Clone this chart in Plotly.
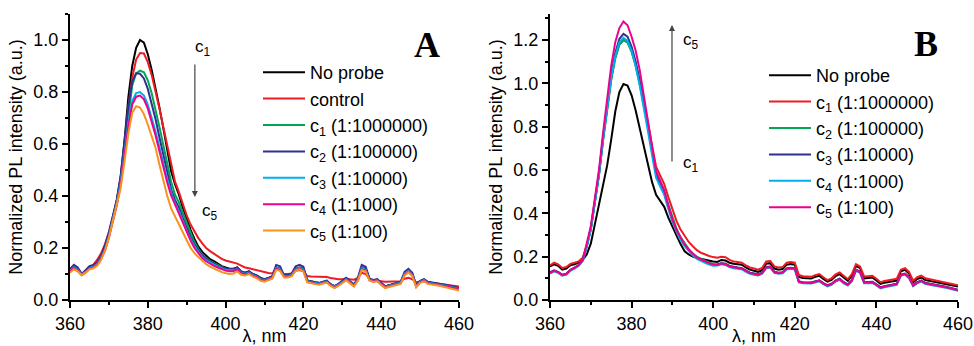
import plotly.graph_objects as go

wavelength = list(range(360, 461))

# ---------- Panel A (normalized PL, quenching) ----------
a_no_probe = [0.115, 0.13, 0.12, 0.10, 0.11, 0.125, 0.13, 0.14, 0.165,
    0.20, 0.25, 0.31, 0.38, 0.47, 0.61, 0.78, 0.90, 0.97, 1.0, 0.99, 0.945, 0.885, 0.815, 0.74, 0.66,
    0.575, 0.495, 0.445, 0.405, 0.355, 0.31, 0.27, 0.235, 0.205, 0.185, 0.17, 0.157, 0.15, 0.14, 0.13, 0.125,
    0.12, 0.12, 0.125, 0.11, 0.105, 0.11, 0.10, 0.095, 0.085, 0.08,
    0.085, 0.09, 0.125, 0.12, 0.095, 0.095, 0.10, 0.12, 0.125, 0.12,
    0.075, 0.07, 0.068, 0.065, 0.068, 0.072, 0.06, 0.052, 0.06, 0.072,
    0.082, 0.07, 0.058, 0.08, 0.125, 0.12, 0.08, 0.075, 0.078, 0.065,
    0.052, 0.056, 0.06, 0.065, 0.068, 0.10, 0.115, 0.10, 0.055, 0.072,
    0.078, 0.068, 0.066, 0.064, 0.062, 0.058, 0.056, 0.052, 0.048, 0.045]
a_control = [0.115, 0.125, 0.12, 0.10, 0.11, 0.125, 0.135, 0.155, 0.18,
    0.215, 0.26, 0.315, 0.38, 0.465, 0.59, 0.74, 0.855, 0.925, 0.95, 0.948, 0.915, 0.865, 0.805, 0.735, 0.665,
    0.595, 0.515, 0.455, 0.415, 0.37, 0.325, 0.29, 0.262, 0.238, 0.218, 0.2, 0.188, 0.178, 0.168, 0.158, 0.152,
    0.148, 0.142, 0.14, 0.132, 0.125, 0.122, 0.118, 0.115, 0.11, 0.106,
    0.104, 0.102, 0.118, 0.115, 0.10, 0.10, 0.102, 0.112, 0.115, 0.11,
    0.092, 0.09, 0.09, 0.088, 0.088, 0.088, 0.085, 0.082, 0.08, 0.08,
    0.083, 0.08, 0.078, 0.085, 0.105, 0.10, 0.08, 0.076, 0.075, 0.072,
    0.07, 0.07, 0.07, 0.07, 0.072, 0.082, 0.085, 0.08, 0.068, 0.07,
    0.072, 0.068, 0.066, 0.064, 0.062, 0.06, 0.058, 0.056, 0.054, 0.052]
a_c1 = [0.115, 0.13, 0.12, 0.10, 0.11, 0.125, 0.13, 0.14, 0.165,
    0.20, 0.25, 0.31, 0.375, 0.46, 0.585, 0.72, 0.825, 0.872, 0.882, 0.876, 0.845, 0.795, 0.735, 0.665, 0.595,
    0.525, 0.455, 0.405, 0.375, 0.335, 0.295, 0.255, 0.222, 0.196, 0.176, 0.162, 0.15, 0.142, 0.134, 0.127, 0.121,
    0.118, 0.118, 0.122, 0.108, 0.103, 0.108, 0.098, 0.093, 0.083, 0.078,
    0.083, 0.088, 0.125, 0.12, 0.093, 0.093, 0.098, 0.12, 0.125, 0.118,
    0.074, 0.069, 0.067, 0.064, 0.068, 0.074, 0.06, 0.052, 0.06, 0.072,
    0.083, 0.07, 0.058, 0.08, 0.126, 0.12, 0.08, 0.075, 0.078, 0.064,
    0.052, 0.056, 0.06, 0.065, 0.068, 0.102, 0.116, 0.10, 0.055, 0.072,
    0.078, 0.068, 0.066, 0.064, 0.062, 0.058, 0.055, 0.051, 0.047, 0.044]
a_c2 = [0.12, 0.135, 0.125, 0.10, 0.115, 0.13, 0.135, 0.145, 0.17,
    0.21, 0.26, 0.32, 0.385, 0.475, 0.605, 0.745, 0.84, 0.872, 0.87, 0.852, 0.812, 0.755, 0.695, 0.625, 0.555,
    0.485, 0.425, 0.385, 0.355, 0.315, 0.278, 0.242, 0.212, 0.19, 0.172, 0.158, 0.148, 0.14, 0.132, 0.125, 0.12,
    0.118, 0.118, 0.125, 0.108, 0.104, 0.11, 0.10, 0.094, 0.084, 0.079,
    0.084, 0.092, 0.135, 0.13, 0.096, 0.096, 0.102, 0.13, 0.135, 0.128,
    0.075, 0.07, 0.068, 0.066, 0.07, 0.075, 0.061, 0.053, 0.062, 0.075,
    0.085, 0.072, 0.06, 0.085, 0.135, 0.128, 0.082, 0.077, 0.08, 0.066,
    0.053, 0.057, 0.062, 0.067, 0.07, 0.108, 0.12, 0.105, 0.056, 0.074,
    0.08, 0.07, 0.068, 0.066, 0.063, 0.06, 0.057, 0.052, 0.048, 0.045]
a_c3 = [0.112, 0.125, 0.115, 0.098, 0.108, 0.122, 0.128, 0.138, 0.162,
    0.195, 0.245, 0.305, 0.37, 0.45, 0.56, 0.68, 0.765, 0.796, 0.80, 0.786, 0.752, 0.703, 0.648, 0.588, 0.525,
    0.465, 0.412, 0.372, 0.342, 0.302, 0.266, 0.235, 0.206, 0.185, 0.166, 0.153, 0.143, 0.136, 0.129, 0.122, 0.116,
    0.114, 0.114, 0.12, 0.105, 0.10, 0.105, 0.096, 0.09, 0.08, 0.076,
    0.081, 0.087, 0.122, 0.118, 0.091, 0.091, 0.096, 0.118, 0.122, 0.116,
    0.072, 0.067, 0.065, 0.063, 0.066, 0.071, 0.058, 0.05, 0.058, 0.07,
    0.08, 0.068, 0.056, 0.078, 0.122, 0.116, 0.078, 0.073, 0.076, 0.062,
    0.05, 0.054, 0.058, 0.063, 0.066, 0.10, 0.112, 0.097, 0.053, 0.07,
    0.076, 0.066, 0.064, 0.062, 0.06, 0.056, 0.053, 0.049, 0.045, 0.042]
a_c4 = [0.11, 0.122, 0.112, 0.095, 0.105, 0.12, 0.125, 0.135, 0.16,
    0.19, 0.24, 0.30, 0.362, 0.44, 0.55, 0.668, 0.752, 0.782, 0.786, 0.772, 0.737, 0.688, 0.633, 0.572, 0.508,
    0.452, 0.402, 0.366, 0.336, 0.296, 0.26, 0.229, 0.20, 0.18, 0.161, 0.149, 0.139, 0.131, 0.125, 0.118, 0.113,
    0.111, 0.111, 0.118, 0.103, 0.098, 0.103, 0.094, 0.088, 0.078, 0.074,
    0.079, 0.085, 0.12, 0.115, 0.089, 0.089, 0.094, 0.115, 0.12, 0.113,
    0.07, 0.065, 0.063, 0.061, 0.064, 0.069, 0.056, 0.048, 0.056, 0.068,
    0.078, 0.066, 0.054, 0.076, 0.118, 0.113, 0.076, 0.071, 0.074, 0.06,
    0.048, 0.052, 0.056, 0.061, 0.064, 0.096, 0.108, 0.094, 0.051, 0.068,
    0.074, 0.064, 0.062, 0.06, 0.058, 0.054, 0.051, 0.047, 0.043, 0.04]
a_c5 = [0.105, 0.118, 0.11, 0.095, 0.105, 0.118, 0.122, 0.132, 0.155,
    0.19, 0.24, 0.30, 0.36, 0.43, 0.53, 0.64, 0.72, 0.745, 0.74, 0.715, 0.675, 0.63, 0.585, 0.52, 0.455,
    0.40, 0.352, 0.32, 0.29, 0.26, 0.23, 0.20, 0.18, 0.165, 0.15, 0.138, 0.128, 0.12, 0.113, 0.107, 0.103,
    0.10, 0.102, 0.11, 0.097, 0.094, 0.10, 0.09, 0.084, 0.074, 0.07,
    0.075, 0.082, 0.116, 0.112, 0.087, 0.087, 0.092, 0.112, 0.118, 0.11,
    0.068, 0.063, 0.061, 0.059, 0.062, 0.067, 0.054, 0.046, 0.054, 0.066,
    0.076, 0.064, 0.052, 0.074, 0.115, 0.11, 0.074, 0.069, 0.072, 0.058,
    0.046, 0.05, 0.054, 0.059, 0.062, 0.094, 0.106, 0.092, 0.049, 0.066,
    0.072, 0.062, 0.06, 0.058, 0.055, 0.051, 0.047, 0.043, 0.039, 0.036]

# ---------- Panel B (normalized PL, enhancement) ----------
b_no_probe = [0.155, 0.165, 0.158, 0.14, 0.145, 0.16, 0.165, 0.172, 0.185,
    0.21, 0.26, 0.35, 0.45, 0.53, 0.62, 0.74, 0.87, 0.96, 0.997, 0.99, 0.945, 0.875, 0.79, 0.705, 0.62,
    0.545, 0.485, 0.46, 0.43, 0.38, 0.335, 0.298, 0.258, 0.225, 0.21, 0.20, 0.194, 0.19, 0.186, 0.18, 0.178,
    0.176, 0.185, 0.182, 0.172, 0.167, 0.166, 0.163, 0.15, 0.14, 0.135,
    0.13, 0.138, 0.168, 0.17, 0.145, 0.14, 0.143, 0.163, 0.166, 0.163,
    0.107, 0.102, 0.10, 0.099, 0.107, 0.112, 0.097, 0.085, 0.093, 0.11,
    0.119, 0.102, 0.088, 0.112, 0.157, 0.147, 0.10, 0.102, 0.104, 0.09,
    0.074, 0.08, 0.084, 0.087, 0.09, 0.132, 0.139, 0.122, 0.081, 0.097,
    0.104, 0.092, 0.088, 0.085, 0.082, 0.078, 0.074, 0.07, 0.066, 0.062]
b_c1 = [0.16, 0.172, 0.165, 0.148, 0.152, 0.167, 0.172, 0.178, 0.195,
    0.25, 0.33, 0.45, 0.58, 0.74, 0.89, 1.02, 1.12, 1.18, 1.20, 1.19, 1.15, 1.09, 1.01, 0.92, 0.82,
    0.715, 0.615, 0.575, 0.535, 0.475, 0.415, 0.365, 0.325, 0.295, 0.268, 0.248, 0.23, 0.218, 0.21, 0.203, 0.198,
    0.195, 0.20, 0.198, 0.185, 0.178, 0.175, 0.172, 0.16, 0.15, 0.145,
    0.14, 0.148, 0.178, 0.18, 0.155, 0.15, 0.152, 0.172, 0.175, 0.172,
    0.115, 0.11, 0.108, 0.107, 0.115, 0.12, 0.105, 0.092, 0.10, 0.118,
    0.127, 0.11, 0.096, 0.12, 0.165, 0.155, 0.108, 0.11, 0.112, 0.098,
    0.082, 0.088, 0.092, 0.095, 0.098, 0.14, 0.147, 0.13, 0.089, 0.105,
    0.112, 0.10, 0.096, 0.093, 0.09, 0.086, 0.082, 0.078, 0.073, 0.068]
b_c2 = [0.125, 0.135, 0.128, 0.115, 0.12, 0.138, 0.148, 0.16, 0.182,
    0.245, 0.325, 0.445, 0.575, 0.735, 0.885, 1.015, 1.115, 1.178, 1.20, 1.188, 1.145, 1.08, 0.995, 0.90, 0.80,
    0.695, 0.59, 0.545, 0.505, 0.44, 0.38, 0.33, 0.29, 0.26, 0.235, 0.215, 0.20, 0.19, 0.18, 0.172, 0.166,
    0.163, 0.169, 0.166, 0.156, 0.151, 0.149, 0.146, 0.134, 0.125, 0.121,
    0.117, 0.125, 0.151, 0.153, 0.129, 0.125, 0.127, 0.145, 0.148, 0.145,
    0.085, 0.081, 0.081, 0.08, 0.085, 0.09, 0.077, 0.067, 0.074, 0.089,
    0.097, 0.081, 0.071, 0.091, 0.139, 0.129, 0.081, 0.083, 0.083, 0.071,
    0.058, 0.063, 0.067, 0.071, 0.074, 0.116, 0.121, 0.105, 0.067, 0.081,
    0.089, 0.078, 0.075, 0.072, 0.068, 0.064, 0.06, 0.056, 0.051, 0.046]
b_c3 = [0.127, 0.137, 0.13, 0.116, 0.121, 0.139, 0.149, 0.161, 0.183,
    0.25, 0.33, 0.455, 0.585, 0.75, 0.905, 1.04, 1.14, 1.205, 1.228, 1.215, 1.168, 1.10, 1.01, 0.91, 0.80,
    0.69, 0.58, 0.535, 0.495, 0.43, 0.37, 0.322, 0.283, 0.253, 0.229, 0.21, 0.195, 0.185, 0.176, 0.168, 0.162,
    0.164, 0.17, 0.167, 0.157, 0.152, 0.15, 0.147, 0.135, 0.126, 0.122,
    0.118, 0.126, 0.152, 0.154, 0.13, 0.126, 0.128, 0.146, 0.149, 0.146,
    0.086, 0.082, 0.082, 0.081, 0.086, 0.091, 0.078, 0.068, 0.075, 0.09,
    0.098, 0.082, 0.072, 0.092, 0.14, 0.13, 0.082, 0.084, 0.084, 0.072,
    0.059, 0.064, 0.068, 0.072, 0.075, 0.117, 0.122, 0.106, 0.068, 0.082,
    0.09, 0.079, 0.076, 0.073, 0.069, 0.065, 0.061, 0.057, 0.052, 0.047]
b_c4 = [0.122, 0.132, 0.125, 0.112, 0.117, 0.135, 0.145, 0.157, 0.18,
    0.245, 0.325, 0.445, 0.575, 0.74, 0.89, 1.025, 1.125, 1.19, 1.21, 1.196, 1.15, 1.08, 0.99, 0.89, 0.78,
    0.67, 0.565, 0.525, 0.485, 0.42, 0.36, 0.315, 0.277, 0.248, 0.224, 0.205, 0.19, 0.18, 0.172, 0.164, 0.158,
    0.159, 0.165, 0.162, 0.152, 0.147, 0.145, 0.142, 0.13, 0.121, 0.117,
    0.113, 0.121, 0.147, 0.149, 0.125, 0.121, 0.123, 0.141, 0.144, 0.141,
    0.081, 0.077, 0.077, 0.076, 0.081, 0.086, 0.073, 0.063, 0.07, 0.085,
    0.093, 0.077, 0.067, 0.087, 0.135, 0.125, 0.077, 0.079, 0.079, 0.067,
    0.054, 0.059, 0.063, 0.067, 0.07, 0.112, 0.117, 0.101, 0.063, 0.077,
    0.085, 0.074, 0.071, 0.068, 0.064, 0.06, 0.056, 0.052, 0.047, 0.042]
b_c5 = [0.125, 0.135, 0.128, 0.115, 0.12, 0.138, 0.148, 0.16, 0.182,
    0.26, 0.34, 0.47, 0.60, 0.77, 0.94, 1.08, 1.19, 1.255, 1.285, 1.268, 1.215, 1.15, 1.06, 0.95, 0.83,
    0.71, 0.595, 0.55, 0.505, 0.435, 0.372, 0.322, 0.286, 0.256, 0.232, 0.212, 0.197, 0.187, 0.178, 0.17, 0.164,
    0.162, 0.168, 0.165, 0.155, 0.15, 0.148, 0.145, 0.133, 0.124, 0.12,
    0.116, 0.124, 0.15, 0.152, 0.128, 0.124, 0.126, 0.144, 0.147, 0.144,
    0.084, 0.08, 0.08, 0.079, 0.084, 0.089, 0.076, 0.066, 0.073, 0.088,
    0.096, 0.08, 0.07, 0.09, 0.138, 0.128, 0.08, 0.082, 0.082, 0.07,
    0.057, 0.062, 0.066, 0.07, 0.073, 0.115, 0.12, 0.104, 0.066, 0.08,
    0.088, 0.077, 0.074, 0.071, 0.067, 0.063, 0.059, 0.055, 0.05, 0.045]

names_a = ["No probe", "control", "c<sub>1</sub> (1:1000000)", "c<sub>2</sub> (1:100000)",
           "c<sub>3</sub> (1:10000)", "c<sub>4</sub> (1:1000)", "c<sub>5</sub> (1:100)"]
names_b = ["No probe", "c<sub>1</sub> (1:1000000)", "c<sub>2</sub> (1:100000)",
           "c<sub>3</sub> (1:10000)", "c<sub>4</sub> (1:1000)", "c<sub>5</sub> (1:100)"]

BLACK, RED, GREEN, BLUE, CYAN, MAGENTA, ORANGE = (
    "#000000", "#ED1C24", "#00A651", "#2E3192", "#00AEEF", "#EC008C", "#F7941D")
colors_a = [BLACK, RED, GREEN, BLUE, CYAN, MAGENTA, ORANGE]
colors_b = [BLACK, RED, GREEN, BLUE, CYAN, MAGENTA]
series_a = [a_no_probe, a_control, a_c1, a_c2, a_c3, a_c4, a_c5]
series_b = [b_no_probe, b_c1, b_c2, b_c3, b_c4, b_c5]

FONT = "Liberation Sans, Arial, sans-serif"

fig = go.Figure()
for name, ys, col in zip(names_a, series_a, colors_a):
    fig.add_trace(go.Scatter(x=wavelength, y=ys, name=name, mode="lines",
                             line=dict(color=col, width=2), xaxis="x", yaxis="y",
                             legend="legend"))
for name, ys, col in zip(names_b, series_b, colors_b):
    fig.add_trace(go.Scatter(x=wavelength, y=ys, name=name, mode="lines",
                             line=dict(color=col, width=2), xaxis="x2", yaxis="y2",
                             legend="legend2"))

W, H = 974, 346
ML, MT, MB = 0, 14, 46


def xaxis_style(domain, anchor):
    return dict(domain=domain, anchor=anchor, range=[360, 460], tick0=360, dtick=20,
                automargin=False,
                ticks="outside", ticklen=6, tickwidth=1.5, tickcolor="black",
                showline=True, linewidth=2, linecolor="black", showgrid=False, zeroline=False,
                minor=dict(dtick=10, ticks="outside", ticklen=3, tickwidth=1.5, tickcolor="black"),
                tickfont=dict(family=FONT, size=18, color="black"),
                title=dict(text="λ, nm", font=dict(family=FONT, size=18, color="black"), standoff=3))


def yaxis_style(rng, anchor):
    return dict(anchor=anchor, domain=[0, 1], range=rng, tick0=0, dtick=0.2, tickformat=".1f",
                automargin=False,
                ticks="outside", ticklen=6, tickwidth=1.5, tickcolor="black",
                showline=True, linewidth=2, linecolor="black", showgrid=False, zeroline=False,
                minor=dict(dtick=0.1, ticks="outside", ticklen=3, tickwidth=1.5, tickcolor="black"),
                tickfont=dict(family=FONT, size=18, color="black"),
                title=dict(text="Normalized PL intensity (a.u.)",
                           font=dict(family=FONT, size=18, color="black"), standoff=6))


def legend_style(x, y):
    return dict(x=x, y=y, xanchor="left", yanchor="top", bgcolor="rgba(0,0,0,0)",
                font=dict(family=FONT, size=18, color="black"), itemwidth=42,
                tracegroupgap=0, itemclick=False)


def px_to_paper_x(px):
    return px / W


def py_to_paper_y(py):
    return (H - MB - py) / (H - MT - MB)


fig.update_layout(
    width=W, height=H, margin=dict(l=ML, r=0, t=MT, b=MB, autoexpand=False),
    paper_bgcolor="white", plot_bgcolor="white",
    font=dict(family=FONT, size=18, color="black"),
    xaxis=xaxis_style([70 / W, 459 / W], "y"),
    yaxis=yaxis_style([0, 1.1], "x"),
    xaxis2=xaxis_style([550 / W, 958 / W], "y2"),
    yaxis2=yaxis_style([0, 1.32], "x2"),
    legend=legend_style(px_to_paper_x(258), py_to_paper_y(54)),
    legend2=legend_style(px_to_paper_x(764), py_to_paper_y(57)),
)

arrow_style = dict(showarrow=True, text="", arrowhead=2, arrowsize=1, arrowwidth=1.2,
                   arrowcolor="#444444")
fig.add_annotation(x=392.1, y=0.396, ax=392.1, ay=0.912, xref="x", yref="y",
                   axref="x", ayref="y", **arrow_style)
fig.add_annotation(x=389.9, y=1.269, ax=389.9, ay=0.632, xref="x2", yref="y2",
                   axref="x2", ayref="y2", **arrow_style)

lbl_font = dict(family=FONT, size=17, color="black")
fig.add_annotation(x=394.3, y=0.969, xref="x", yref="y", text="c<sub>1</sub>",
                   showarrow=False, font=lbl_font)
fig.add_annotation(x=395.9, y=0.338, xref="x", yref="y", text="c<sub>5</sub>",
                   showarrow=False, font=lbl_font)
fig.add_annotation(x=394.6, y=1.195, xref="x2", yref="y2", text="c<sub>5</sub>",
                   showarrow=False, font=lbl_font)
fig.add_annotation(x=394.6, y=0.628, xref="x2", yref="y2", text="c<sub>1</sub>",
                   showarrow=False, font=lbl_font)

panel_font = dict(family="Liberation Serif, Times New Roman, serif", size=36, color="black")
fig.add_annotation(x=px_to_paper_x(427), y=py_to_paper_y(45), xref="paper", yref="paper",
                   xanchor="center", yanchor="middle",
                   text="<b>A</b>", showarrow=False, font=panel_font)
fig.add_annotation(x=px_to_paper_x(926), y=py_to_paper_y(44), xref="paper", yref="paper",
                   xanchor="center", yanchor="middle",
                   text="<b>B</b>", showarrow=False, font=panel_font)

fig.write_html("out.html", config={"displayModeBar": False},
               post_script="document.body.style.margin='0px';")
